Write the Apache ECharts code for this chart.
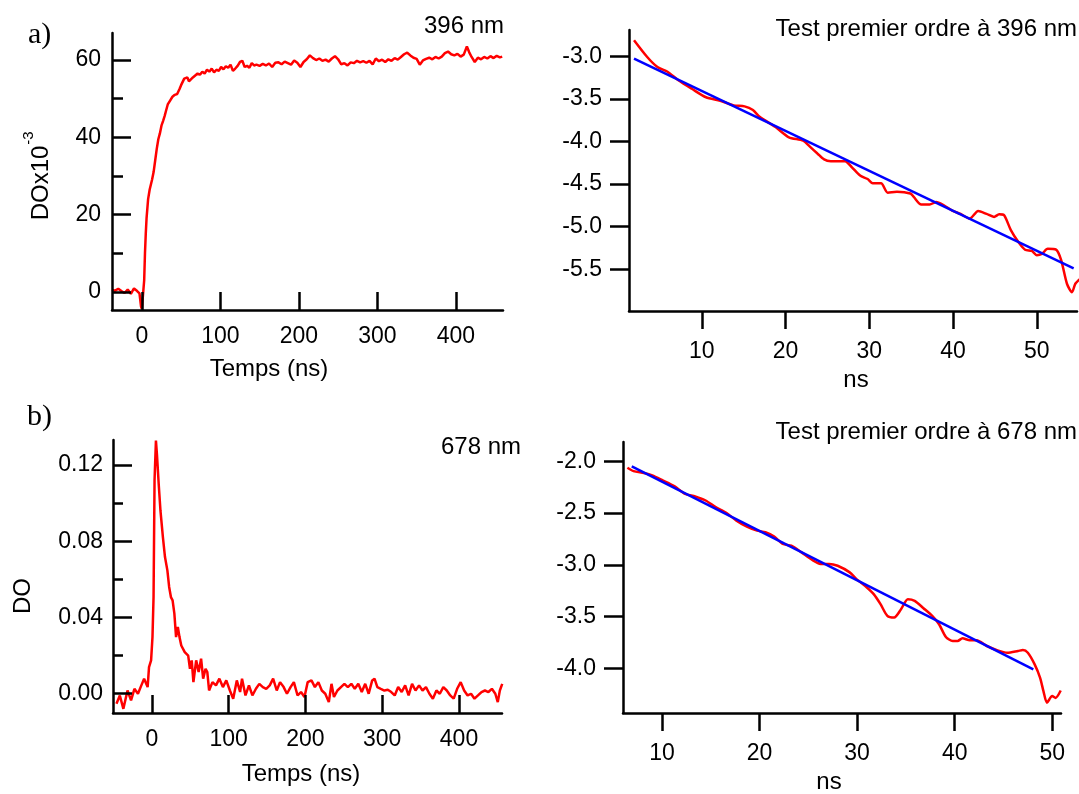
<!DOCTYPE html>
<html>
<head>
<meta charset="utf-8">
<script src="https://cdn.jsdelivr.net/npm/echarts@6/dist/echarts.min.js"></script>
<style>
html,body{margin:0;padding:0;background:#fff;}
#chart{width:1079px;height:794px;}
</style>
</head>
<body>
<div id="chart"></div>
<script>
// ---------- Panel a (396 nm kinetics) ----------
var timeA = [
  -38,-34,-30,-26,-22,-18,-14,-10,-6,-3,
  -1,0,2,3,4,5,6,8,10,13,
  15,17,19,21,23,25,27,29,31,33,
  36,39,42,45,48,50,52,54,56,58,
  60,62,65,68,71,74,77,80,83,86,
  89,92,95,98,101,104,107,110,113,116,
  119,122,125,128,131,134,137,140,143,146,
  150,154,158,162,166,170,174,178,182,186,
  190,194,198,202,206,210,214,218,222,226,
  230,234,238,242,246,250,254,258,262,266,
  270,274,278,282,286,290,294,298,302,306,
  310,314,318,322,326,330,334,338,342,346,
  350,354,358,362,366,370,374,378,382,386,
  390,394,398,402,406,410,414,417,420,424,
  428,432,436,440,444,448,452,456,459
];
var doA = [
  0.5,0.3,0.8,0.2,-0.3,0.6,-0.5,0.9,0.2,-0.4,
  -3.8,-4.4,-4.3,3,10,15,19,24,26.5,29,
  31,34,37,39.5,41,43,44.2,45.5,47,48.5,
  49.5,50.5,51,51.2,52.5,53.5,54,55.2,54.8,55.5,
  54.5,54.3,55.5,56,56.5,56.2,57,56.5,57.5,57,
  57.8,56.8,57.5,57.2,58.2,57.6,58.4,58,58.8,57.2,
  57.8,58.5,59.5,59.8,58.2,58.5,58,59.2,58.6,58.8,
  58.5,59,58.6,59.1,58.2,59.3,59.4,58.9,59.6,59.2,
  58.8,59.9,59.3,58.2,59.5,60.2,61.2,60.5,60,60.4,
  59.8,60.1,59.6,60.4,61,60.2,58.9,59.2,58.6,59.4,
  59.2,59.8,59.4,59.7,59.3,59.8,58.9,60.4,59.7,60.1,
  59.5,60.2,59.8,60.5,60.1,60.8,61.5,61.9,61.2,60.6,
  60.3,58.8,59.9,60.3,60.6,60.2,60.8,60.4,60.9,61.8,
  62.2,61.5,61.2,61.6,60.9,61.4,63.5,62,60.8,59.5,
  60.6,60.2,60.8,60.4,61,60.5,61.1,60.7,60.9
];
var xTicksA = [0,100,200,300,400];
var yTicksA = [0,20,40,60];
var yMinorA = [10,30,50];

// ---------- Panel a, first-order test ----------
var timeA2 = [
  1.9,3.5,4.7,5.9,7.2,8.8,10.5,12.2,13.8,15.1,
  16.1,16.9,18.8,20.4,22.1,22.9,23.8,24.6,25.4,27.1,
  27.9,28.9,29.8,30.4,31.4,32.2,33.3,34.9,35.3,36.2,
  37.2,38.0,38.9,39.9,40.9,42.0,43.0,44.0,44.9,45.5,
  46.1,46.9,47.8,48.6,49.4,50.0,50.6,51.3,52.3,52.9,
  53.6,54.2,54.6,55.2
];
var lnA2 = [
  -2.81,-3.01,-3.125,-3.18,-3.28,-3.38,-3.48,-3.52,-3.575,-3.587,
  -3.63,-3.71,-3.83,-3.95,-3.99,-4.06,-4.14,-4.21,-4.23,-4.23,
  -4.30,-4.40,-4.44,-4.49,-4.49,-4.60,-4.59,-4.61,-4.65,-4.74,
  -4.74,-4.71,-4.75,-4.81,-4.85,-4.905,-4.815,-4.85,-4.885,-4.855,
  -4.866,-5.04,-5.18,-5.27,-5.285,-5.335,-5.32,-5.26,-5.27,-5.39,
  -5.67,-5.77,-5.67,-5.61
];
var fitTimeA2 = [1.9, 54.4];
var fitLnA2 = [-3.027, -5.49];
var xTicksA2 = [10,20,30,40,50];
var yTicksA2 = [-5.5,-5.0,-4.5,-4.0,-3.5,-3.0];

// ---------- Panel b (678 nm kinetics) ----------
var timeB = [
  -46,-41.6,-37,-31.6,-27,-22.6,-18,-13.6,-10,-5.4,
  -3.6,-0.9,0.9,2.3,3.6,5.4,6.8,9,11.3,14.5,
  17.2,20.3,22.6,24.9,27.1,29.4,31.6,33.9,36.1,38.4,
  42.9,47.4,49.7,52,54.2,57.8,61,64.2,66.9,70,
  72.3,74.6,79,83.6,88,92.6,97,101.7,106,110.7,
  115,117.5,122,126.5,131,135.6,140,144.6,149,153.6,
  158,162.7,167,171.7,176,180.7,185,189.8,194.3,198.8,
  203,207.9,212.4,216.9,221.4,225.9,230.5,234,237.2,241.7,
  246.3,250.8,255.3,259.8,264.3,268.9,273.4,277.9,282.4,287,
  290,293.7,298.2,302.8,307.3,311.8,316.3,320.8,325.4,329.9,
  334.4,338.9,343.4,348,352.5,357,361.5,366,370.6,375,
  379.6,384.1,388.6,393.1,397.6,402.2,406.7,411.2,415.7,420.2,
  424.7,429.3,433.8,438.3,442.8,447.3,450.5,453.2,456.3
];
var doB = [
  -0.0052,-0.0009,-0.0079,0.0017,-0.0035,0.0026,0,0.0044,0.0079,0.0035,
  0.014,0.0175,0.0297,0.0507,0.112,0.1328,0.125,0.110,0.096,0.082,
  0.0717,0.0647,0.056,0.0507,0.049,0.042,0.0297,0.035,0.0297,0.0253,
  0.0218,0.02,0.0131,0.0175,0.0061,0.0175,0.0114,0.0184,0.0079,0.0131,
  0.0114,0.0017,0.0061,0.0044,0.0079,0.0035,0.007,0.0017,-0.0026,0.007,
  0.0009,0.0079,-0.0009,0.0044,-0.0009,0.0026,0.0052,0.0035,0.0026,0.0044,
  0.0079,0.0017,0.0061,0.0035,0,0.0035,0.0061,-0.0009,0.0009,-0.0017,
  0.0061,0.007,0.0035,0.0061,0.0017,0,-0.0044,0.0052,-0.0017,0.0017,
  0.0035,0.0052,0.0035,0.0052,0.0026,0.0052,0.0009,0.0052,0,0.007,
  0.0079,0.0035,0.0026,0.0017,0.0021,0.0009,-0.0009,0.0035,0.0009,0.0044,
  -0.0009,0.0052,0.0017,0.0044,0.0017,0.0035,0,-0.0026,0.0017,0,
  0.0035,0.0017,-0.0009,-0.0026,0.0026,0.0061,0.0017,-0.0009,0,-0.0026,
  -0.0009,0.0009,0.0017,0.0009,0.0026,0,-0.0044,0.0017,0.0052
];
var xTicksB = [0,100,200,300,400];
var yTicksB = [0,0.04,0.08,0.12];
var yMinorB = [0.02,0.06,0.10];

// ---------- Panel b, first-order test ----------
var timeB2 = [
  6.45,7.08,8.14,9.0,10.07,11.3,12.36,13.4,14.47,15.5,
  16.58,17.63,18.7,19.74,20.6,21.5,22.38,23.26,24.3,25.37,
  26.25,27.13,28.0,29.24,29.94,31.0,31.7,32.4,33.1,33.8,
  34.5,35.2,35.9,36.8,37.7,38.4,39.1,39.8,40.3,40.8,
  41.55,42.25,43.3,44.4,45.4,46.5,47.0,47.5,48.2,48.76,
  49.1,49.46,50.0,50.34,50.87
];
var lnB2 = [
  -2.061,-2.094,-2.113,-2.136,-2.184,-2.242,-2.313,-2.339,-2.378,-2.442,
  -2.497,-2.572,-2.63,-2.669,-2.685,-2.727,-2.798,-2.814,-2.879,-2.95,
  -2.99,-2.99,-3.008,-3.072,-3.137,-3.218,-3.282,-3.379,-3.492,-3.508,
  -3.428,-3.331,-3.347,-3.418,-3.492,-3.573,-3.696,-3.734,-3.734,-3.709,
  -3.728,-3.728,-3.783,-3.825,-3.848,-3.831,-3.822,-3.848,-3.96,-4.09,
  -4.219,-4.33,-4.267,-4.284,-4.213
];
var fitTimeB2 = [6.9, 48.06];
var fitLnB2 = [-2.048, -4.009];
var xTicksB2 = [10,20,30,40,50];
var yTicksB2 = [-4.0,-3.5,-3.0,-2.5,-2.0];

// ---------- build ----------
var SANS = '"Liberation Sans", Arial, sans-serif';
var SERIF = '"Liberation Serif", "Times New Roman", serif';
function zip(a, b) { return a.map(function (v, i) { return [v, b[i]]; }); }

function axis(opt) {
  return {
    type: 'value',
    gridIndex: opt.grid,
    min: opt.min, max: opt.max,
    position: opt.position,
    axisLine: { show: opt.line !== false, onZero: false, lineStyle: { color: '#000', width: 2.5 } },
    axisTick: { show: true, inside: opt.inside, length: opt.tickLen, customValues: opt.ticks,
                lineStyle: { color: '#000', width: 2.5 } },
    axisLabel: { show: opt.fmt !== undefined, customValues: opt.ticks, margin: opt.margin,
                 formatter: opt.fmt, color: '#000', fontSize: 23, fontFamily: SANS },
    splitLine: { show: false },
    minorTick: { show: false },
    z: 5
  };
}
function intFmt(v) { return String(Math.round(v)); }
function fmt1(v) { return v.toFixed(1); }
function fmt2(v) { return v.toFixed(2); }

function line(xi, yi, data, color, smooth) {
  return {
    type: 'line', xAxisIndex: xi, yAxisIndex: yi, data: data,
    showSymbol: false, symbol: 'none', smooth: smooth || false,
    lineStyle: { color: color, width: 2.5 }, clip: true, silent: true, z: 3
  };
}
function txt(x, y, text, size, align, family, rot) {
  var e = { type: 'text', x: x, y: y, silent: true, z: 10,
    style: { text: text, fill: '#000', fontSize: size, fontFamily: family || SANS,
             align: align, verticalAlign: 'middle', textAlign: align, textVerticalAlign: 'middle' } };
  if (rot) e.rotation = rot;
  return e;
}

var option = {
  animation: false,
  backgroundColor: '#fff',
  grid: [
    { left: 112, top: 33, width: 391, height: 277 },
    { left: 629, top: 30, width: 448, height: 281 },
    { left: 113, top: 440, width: 389, height: 273 },
    { left: 623, top: 442, width: 438, height: 271 }
  ],
  xAxis: [
    axis({ grid: 0, min: -38, max: 460, ticks: xTicksA, fmt: intFmt, inside: true, tickLen: 18, margin: 15, position: 'bottom' }),
    axis({ grid: 1, min: 1.3, max: 54.8, ticks: xTicksA2, fmt: intFmt, inside: false, tickLen: 18, margin: 29, position: 'bottom' }),
    axis({ grid: 2, min: -50.5, max: 456, ticks: xTicksB, fmt: intFmt, inside: true, tickLen: 18, margin: 15, position: 'bottom' }),
    axis({ grid: 3, min: 6.0, max: 50.9, ticks: xTicksB2, fmt: intFmt, inside: false, tickLen: 18, margin: 29, position: 'bottom' })
  ],
  yAxis: [
    axis({ grid: 0, min: -4.7, max: 67, ticks: yTicksA, fmt: intFmt, inside: true, tickLen: 19, margin: 11, position: 'left' }),
    axis({ grid: 1, min: -5.99, max: -2.69, ticks: yTicksA2, fmt: fmt1, inside: false, tickLen: 19, margin: 27, position: 'left' }),
    axis({ grid: 2, min: -0.0101, max: 0.1331, ticks: yTicksB, fmt: fmt2, inside: true, tickLen: 19, margin: 10, position: 'left' }),
    axis({ grid: 3, min: -4.43, max: -1.813, ticks: yTicksB2, fmt: fmt1, inside: false, tickLen: 19, margin: 27, position: 'left' }),
    // minor ticks of the left panels
    axis({ grid: 0, min: -4.7, max: 67, ticks: yMinorA, inside: true, tickLen: 11, line: false, position: 'left' }),
    axis({ grid: 2, min: -0.0101, max: 0.1331, ticks: yMinorB, inside: true, tickLen: 10, line: false, position: 'left' })
  ],
  series: [
    line(0, 0, zip(timeA, doA), '#ff0000'),
    line(1, 1, zip(timeA2, lnA2), '#ff0000', 0.25),
    line(1, 1, zip(fitTimeA2, fitLnA2), '#0000ff'),
    line(2, 2, zip(timeB, doB), '#ff0000'),
    line(3, 3, zip(timeB2, lnB2), '#ff0000', 0.25),
    line(3, 3, zip(fitTimeB2, fitLnB2), '#0000ff')
  ],
  graphic: [
    txt(28, 35, 'a)', 30, 'left', SERIF),
    txt(27, 417, 'b)', 30, 'left', SERIF),
    txt(504, 26, '396 nm', 24, 'right'),
    txt(521, 447, '678 nm', 24, 'right'),
    txt(1077, 29, 'Test premier ordre à 396 nm', 24, 'right'),
    txt(1077, 432, 'Test premier ordre à 678 nm', 24, 'right'),
    txt(269, 369, 'Temps (ns)', 24, 'center'),
    txt(301, 774, 'Temps (ns)', 24, 'center'),
    txt(856, 380, 'ns', 24, 'center'),
    txt(829, 782, 'ns', 24, 'center'),
    txt(41.5, 183, 'DOx10', 24, 'center', SANS, Math.PI / 2),
    txt(28.5, 138, '-3', 15, 'center', SANS, Math.PI / 2),
    txt(23.5, 596, 'DO', 24, 'center', SANS, Math.PI / 2)
  ]
};

var chart = echarts.init(document.getElementById('chart'), null, { renderer: 'canvas' });
chart.setOption(option);
</script>
</body>
</html>
